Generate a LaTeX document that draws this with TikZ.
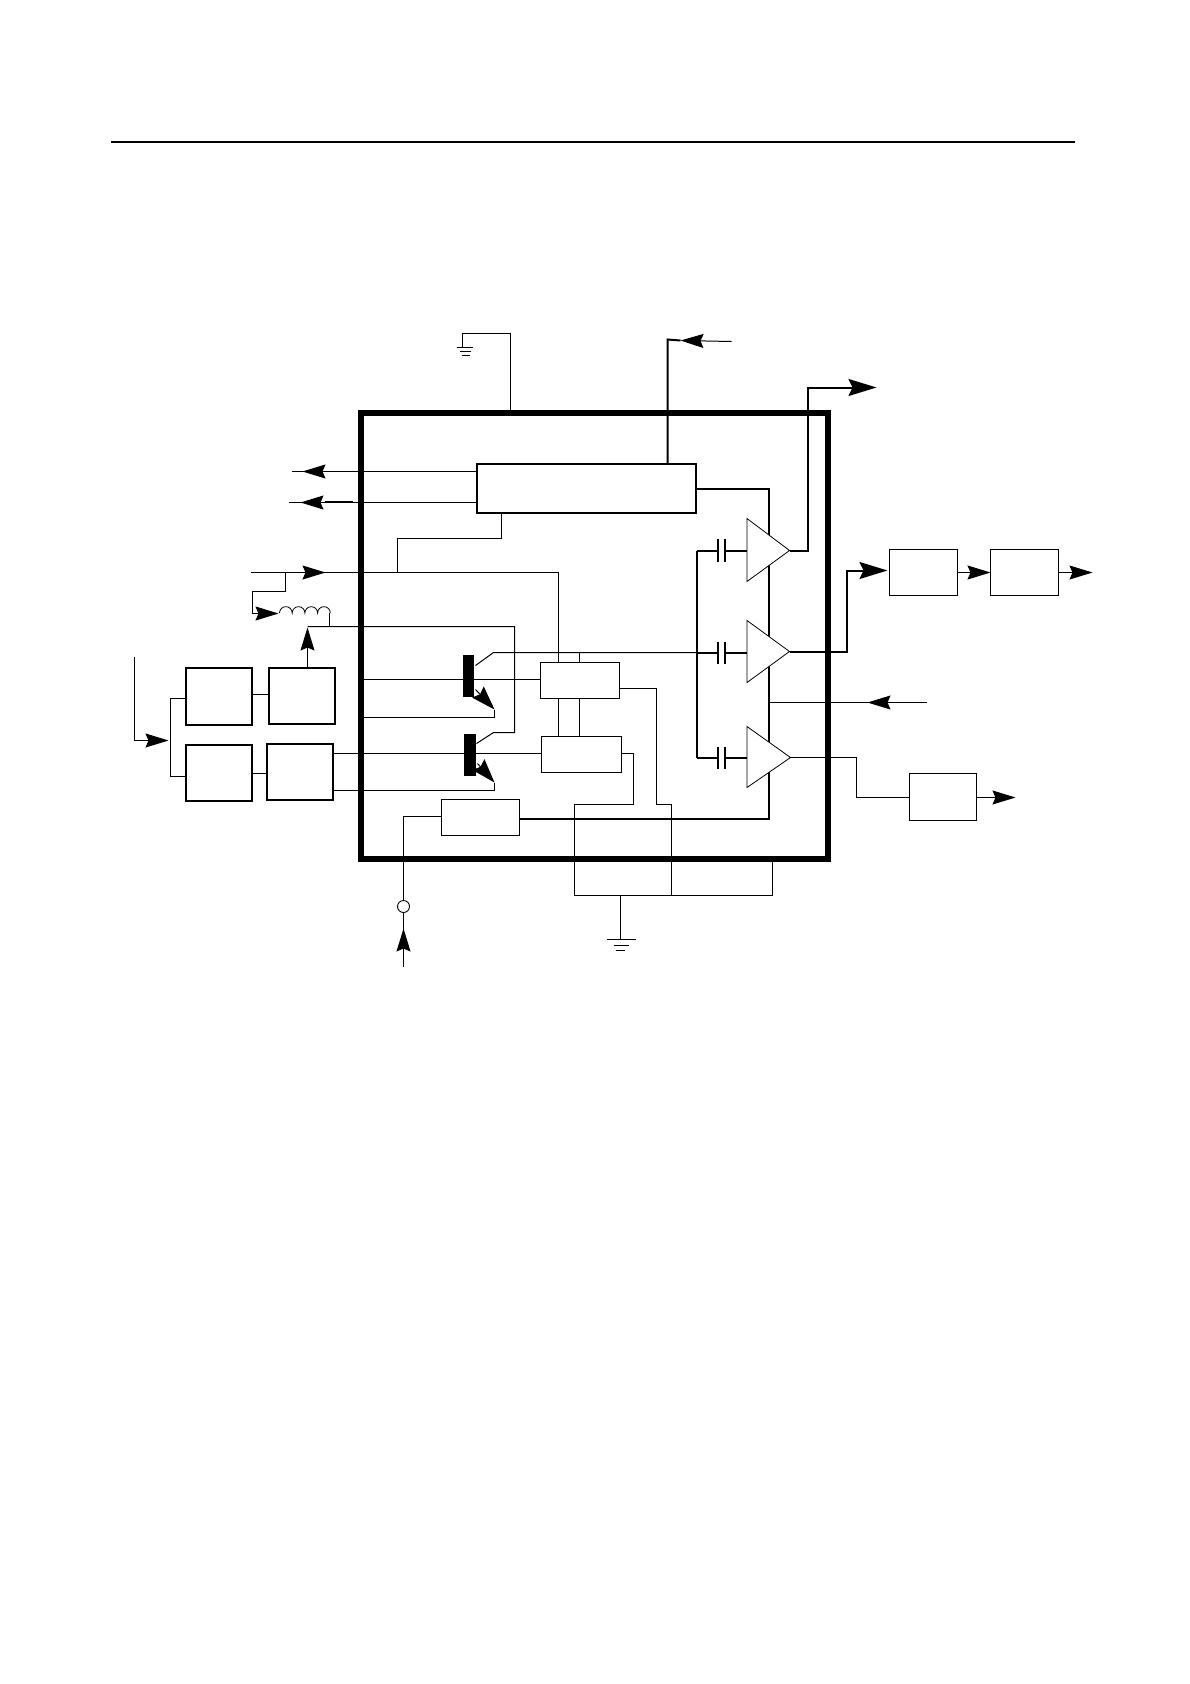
\documentclass[tikz,border=0pt]{standalone}
\usetikzlibrary{arrows.meta}
\tikzset{
  wire/.style={line width=1pt,line join=miter},
  bus/.style={line width=2pt,line join=miter},
  arr/.style={-{Stealth[length=23pt,width=14pt,inset=3pt]}},
  busarr/.style={-{Stealth[length=28pt,width=17pt,inset=4pt]}},
  boxthin/.style={draw,fill=white,line width=1pt,inner sep=0pt,outer sep=0pt},
  boxthick/.style={draw,fill=white,line width=2pt,inner sep=0pt,outer sep=0pt},
  chip/.style={draw,line width=6pt,inner sep=0pt,outer sep=0pt},
  barT/.style={fill=black,inner sep=0pt,outer sep=0pt},
  ampl/.style={draw,fill=white,line width=0.8pt,line join=miter},
  plate/.style={line width=2pt},
  pin/.style={draw,fill=white,circle,line width=0.9pt,inner sep=0pt,minimum size=12pt,outer sep=0pt}
}
\newcommand\bx[6]{\node[#1,minimum width={(#5-#3)*1pt},minimum height={(#6-#4)*1pt}] (#2) at ({(#3+#5)/2},{(#4+#6)/2}) {};}
\begin{document}
\begin{tikzpicture}[x=1pt,y=-1pt]
\fill[white] (0,0) rectangle (1190,1684);
\useasboundingbox (0,0) rectangle (1190,1684);
\begin{scope}[shift={(0.5,0.5)}]
% top rule
\coordinate (ruleL) at (110,141);
\coordinate (ruleR) at (1074,141);
\draw[line width=2pt] (ruleL) -- (ruleR);
% chip outline
\bx{chip}{chipbox}{360}{412}{827.5}{858}
% junction coordinates
\coordinate (gt1) at (510,333);
\coordinate (gt2) at (462,333);
\coordinate (gt3) at (462,347);
\coordinate (vcc1) at (667,339);
\coordinate (vcctip) at (680,340);
\coordinate (vccend) at (731,341);
\coordinate (a1t) at (746.5,518);\coordinate (a1b) at (746.5,581);\coordinate (a1o) at (789,550);
\coordinate (a2t) at (746.5,620);\coordinate (a2b) at (746.5,682);\coordinate (a2o) at (789,651);
\coordinate (a3t) at (746.5,726);\coordinate (a3b) at (746.5,787);\coordinate (a3o) at (790,757);
\coordinate (busL1) at (696,550);\coordinate (busL3) at (696,757);
\coordinate (busR) at (768,488);\coordinate (busRb) at (768,818);
% wires
\draw[wire] (510,412) -- (gt1) -- (gt2) -- (gt3);
\draw[wire] (456,347) -- (472,347) (459,351) -- (470,351) (461,355) -- (469,355);
% vcc
\draw[bus] (667,463) -- (vcc1) -- (vcctip);
\draw[wire,arr] (vccend) -- (vcctip);
% left arrows
\draw[wire,arr] (476,471) -- (302,471);
\draw[wire] (306,471) -- (291,471);
\draw[wire,arr] (476,502) -- (300,502);
\draw[wire] (304,502) -- (288,502);
\draw[bus] (324,501.5) -- (352,501.5);
% ub down
\coordinate (ubd1) at (501,538);\coordinate (ubd2) at (397,538);\coordinate (ubd3) at (397,572);
\draw[wire] (501,512) -- (ubd1) -- (ubd2) -- (ubd3);
% main input
\coordinate (inL) at (250,572);\coordinate (inTip) at (325,572);\coordinate (inJ) at (285,572);
\coordinate (linkT) at (558,572);
\draw[wire,arr] (inL) -- (inTip);
\draw[wire] (321,572) -- (linkT) -- (558,736);
\draw[wire] (inJ) -- (285,591) -- (252,591) -- (252,613) -- (258,613);
\draw[wire,arr] (252,613) -- (278,613);
% coil
\draw[line width=0.8pt] (279,612.5) arc[start angle=180,end angle=0,radius=6.35pt]
  arc[start angle=180,end angle=0,radius=6.35pt]
  arc[start angle=180,end angle=0,radius=6.35pt]
  arc[start angle=180,end angle=0,radius=6.35pt];
\draw[wire] (329,612) -- (329,626);
% collector feed
\coordinate (fd1) at (307,626);\coordinate (fd2) at (514,626);\coordinate (fd3) at (514,732);\coordinate (fd4) at (493,732);
\draw[wire] (fd1) -- (fd2) -- (fd3) -- (fd4) -- (476,743);
\draw[wire] (475,665) -- (493,652) -- (696,652);
% transistor bases
\draw[wire] (363,679) -- (540,679);
\draw[wire] (333,753) -- (541,753);
% emitters
\coordinate (e1) at (494,709);\coordinate (e2) at (494,782);
\draw[wire,-{Stealth[length=24pt,width=16pt,inset=3pt]}] (475,689) -- (e1);
\draw[wire] (e1) -- (494,717) -- (363,717);
\draw[wire,-{Stealth[length=24pt,width=16pt,inset=3pt]}] (477,763) -- (e2);
\draw[wire] (e2) -- (494,790) -- (331,790);
% block links
\draw[wire] (579,652) -- (579,736);
\draw[wire] (619,688) -- (656,688) -- (656,804) -- (671,804) -- (671,895);
\draw[wire] (621,753) -- (633,753) -- (633,804) -- (574,804) -- (574,895) -- (772,895) -- (772,861);
% lower ground
\coordinate (gndb) at (620,939);
\draw[wire] (620,895) -- (gndb);
\draw[wire] (606,939) -- (635,939) (613,945) -- (628,945) (615,950) -- (624,950);
% buses
\draw[bus] (695,488) -- (busR) -- (busRb) -- (519,818);
\draw[bus] (busL1) -- (busL3);
\draw[bus] (busL1) -- (717,550) (724,550) -- (747,550);
\draw[bus] (696,652) -- (717,652) (724,652) -- (747,652);
\draw[bus] (busL3) -- (717,757) (724,757) -- (747,757);
\draw[plate] (717,538) -- (717,561) (724,538) -- (724,561);
\draw[plate] (717,641) -- (717,663) (724,641) -- (724,663);
\draw[plate] (717,746) -- (717,768) (724,746) -- (724,768);
% outputs
\coordinate (o1a) at (807,550);\coordinate (o1b) at (807,387);\coordinate (o1tip) at (876,387);
\draw[bus] (a1o) -- (o1a) -- (o1b) -- (852,387);
\draw[bus,busarr] (850,387) -- (o1tip);
\coordinate (o2a) at (846,651);\coordinate (o2b) at (846,570);\coordinate (o2tip) at (887,570);
\draw[bus] (a2o) -- (o2a) -- (o2b) -- (862,570);
\draw[bus,busarr] (855,570) -- (o2tip);
\draw[wire] (a3o) -- (856,757) -- (856,797) -- (909,797);
% side input
\coordinate (sideEnd) at (926,702);\coordinate (sideTip) at (867,702);
\draw[wire,arr] (sideEnd) -- (sideTip);
\draw[wire] (871,702) -- (768,702);
% left input
\coordinate (li1) at (134,656);\coordinate (li2) at (134,740);\coordinate (liTip) at (168,740);
\draw[wire] (li1) -- (li2);
\draw[wire,arr] (li2) -- (liTip);
\draw[wire] (186,698) -- (170,698) -- (170,776) -- (188,776);
% amplifiers
\draw[ampl] (a1t) -- (a1o) -- (a1b) -- cycle;
\draw[ampl] (a2t) -- (a2o) -- (a2b) -- cycle;
\draw[ampl] (a3t) -- (a3o) -- (a3b) -- cycle;
% blocks
\bx{boxthick}{ub}{476}{463}{695}{512}
\bx{boxthin}{blkA}{540}{662}{619}{698}
\bx{boxthin}{blkB}{541}{736}{621}{772}
\bx{boxthin}{blkC}{441}{799}{519}{835}
\bx{boxthick}{L1}{185.5}{667}{251.5}{724}
\bx{boxthick}{L2}{268.5}{667}{334.5}{723}
\bx{boxthick}{L3}{185.5}{744}{251.5}{800}
\bx{boxthick}{L4}{266.5}{743}{332.5}{799}
\bx{boxthin}{R1}{889}{549}{957}{595}
\bx{boxthin}{R2}{990}{549}{1058}{595}
\bx{boxthin}{R3}{909}{773}{976}{820}
\bx{barT}{T1}{462.5}{654.5}{473.5}{696.5}
\bx{barT}{T2}{463.5}{733.5}{475.5}{775.5}
% connectors between blocks
\draw[wire] (L1.east |- 0,694) -- (L2.west |- 0,694);
\draw[wire] (L3.east |- 0,773) -- (L4.west |- 0,773);
\coordinate (upTip) at (307,627);
\draw[wire,arr] (upTip |- L2.north) -- (upTip);
\draw[wire,arr] (R1.east) -- (R2.west);
\coordinate (r2tip) at (1092,572);
\draw[wire,arr] (R2.east) -- (r2tip);
\coordinate (r3tip) at (1015,797);
\draw[wire,arr] (R3.east |- 0,797) -- (r3tip);
% bottom input
\coordinate (pc) at (403,906);
\coordinate (bIn) at (403,966);\coordinate (bTip) at (403,928);
\draw[wire] (blkC.west |- 0,816) -- (403,816) -- (403,900);
\draw[wire,arr] (bIn) -- (bTip);
\draw[wire] (403,932) -- (403,912);
\node[pin] (pinB) at (pc) {};
\end{scope}
\end{tikzpicture}
\end{document}
